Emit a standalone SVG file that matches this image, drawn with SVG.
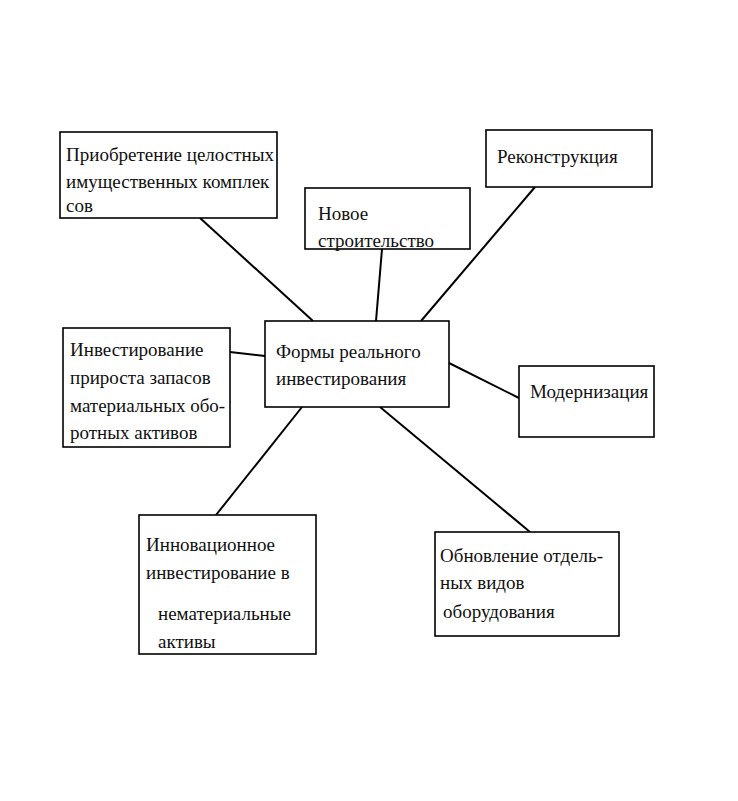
<svg xmlns="http://www.w3.org/2000/svg" width="738" height="801" viewBox="0 0 738 801">
<style>
.box{fill:#fff;stroke:#000;stroke-width:1.6}
.t{font-family:"Liberation Serif","Times New Roman",serif;font-size:19px;fill:#111}
.c line{stroke:#000;stroke-width:2}
</style>
<rect width="738" height="801" fill="#fff"/>
<g class="c" id="connectors">
<line x1="200" y1="218" x2="313" y2="321"/>
<line x1="382" y1="249" x2="376" y2="321"/>
<line x1="535" y1="187" x2="421" y2="321"/>
<line x1="230" y1="352" x2="265" y2="356"/>
<line x1="449" y1="363" x2="519" y2="398"/>
<line x1="302" y1="407" x2="216" y2="515"/>
<line x1="380" y1="407" x2="530" y2="532"/>
</g>
<g id="n1"><rect class="box" x="60" y="132" width="217" height="86"/>
<text class="t" x="66" y="161">Приобретение целостных</text>
<text class="t" x="66" y="188">имущественных комплек</text>
<text class="t" x="66" y="212">сов</text></g>
<g id="n2"><rect class="box" x="305" y="188" width="165" height="61"/>
<text class="t" x="318" y="220">Новое</text>
<text class="t" x="318" y="247">строительство</text></g>
<g id="n3"><rect class="box" x="486" y="130" width="166" height="57"/>
<text class="t" x="497" y="163">Реконструкция</text></g>
<g id="center"><rect class="box" x="265" y="321" width="184" height="86"/>
<text class="t" x="276" y="358">Формы реального</text>
<text class="t" x="276" y="385">инвестирования</text></g>
<g id="n5"><rect class="box" x="63" y="328" width="167" height="119"/>
<text class="t" x="70" y="356">Инвестирование</text>
<text class="t" x="70" y="384">прироста запасов</text>
<text class="t" x="70" y="412">материальных обо-</text>
<text class="t" x="70" y="439">ротных активов</text></g>
<g id="n6"><rect class="box" x="519" y="366" width="135" height="71"/>
<text class="t" x="530" y="398">Модернизация</text></g>
<g id="n7"><rect class="box" x="139" y="515" width="177" height="139"/>
<text class="t" x="146" y="551">Инновационное</text>
<text class="t" x="146" y="579">инвестирование в</text>
<text class="t" x="158" y="620">нематериальные</text>
<text class="t" x="158" y="648">активы</text></g>
<g id="n8"><rect class="box" x="435" y="532" width="184" height="104"/>
<text class="t" x="440" y="562">Обновление отдель-</text>
<text class="t" x="440" y="589">ных видов</text>
<text class="t" x="443" y="618">оборудования</text></g>
</svg>
